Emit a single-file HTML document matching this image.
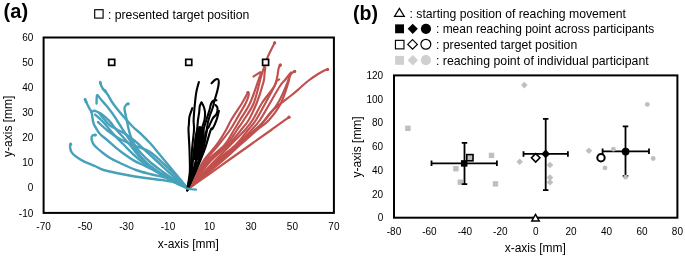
<!DOCTYPE html>
<html><head><meta charset="utf-8"><style>
html,body{margin:0;padding:0;background:#fff;}
svg{display:block;font-family:"Liberation Sans", sans-serif;will-change:transform;}
</style></head><body>
<svg width="685" height="257" viewBox="0 0 685 257">
<rect width="685" height="257" fill="#fff"/>
<rect x="43.6" y="37.5" width="290.3" height="175.4" fill="none" stroke="#000" stroke-width="2"/>
<text x="33.3" y="41.1" text-anchor="end" font-size="10.0">60</text>
<text x="33.3" y="66.2" text-anchor="end" font-size="10.0">50</text>
<text x="33.3" y="91.2" text-anchor="end" font-size="10.0">40</text>
<text x="33.3" y="116.3" text-anchor="end" font-size="10.0">30</text>
<text x="33.3" y="141.3" text-anchor="end" font-size="10.0">20</text>
<text x="33.3" y="166.4" text-anchor="end" font-size="10.0">10</text>
<text x="33.3" y="191.4" text-anchor="end" font-size="10.0">0</text>
<text x="33.3" y="216.5" text-anchor="end" font-size="10.0">-10</text>
<text x="43.6" y="230.1" text-anchor="middle" font-size="10.0">-70</text>
<text x="85.1" y="230.1" text-anchor="middle" font-size="10.0">-50</text>
<text x="126.5" y="230.1" text-anchor="middle" font-size="10.0">-30</text>
<text x="168.0" y="230.1" text-anchor="middle" font-size="10.0">-10</text>
<text x="209.5" y="230.1" text-anchor="middle" font-size="10.0">10</text>
<text x="251.0" y="230.1" text-anchor="middle" font-size="10.0">30</text>
<text x="292.4" y="230.1" text-anchor="middle" font-size="10.0">50</text>
<text x="333.9" y="230.1" text-anchor="middle" font-size="10.0">70</text>
<rect x="394.0" y="75.4" width="283.4" height="142.3" fill="none" stroke="#000" stroke-width="2"/>
<text x="383.2" y="221.3" text-anchor="end" font-size="10.0">0</text>
<text x="383.2" y="197.6" text-anchor="end" font-size="10.0">20</text>
<text x="383.2" y="173.9" text-anchor="end" font-size="10.0">40</text>
<text x="383.2" y="150.2" text-anchor="end" font-size="10.0">60</text>
<text x="383.2" y="126.4" text-anchor="end" font-size="10.0">80</text>
<text x="383.2" y="102.7" text-anchor="end" font-size="10.0">100</text>
<text x="383.2" y="79.0" text-anchor="end" font-size="10.0">120</text>
<text x="394.0" y="234.6" text-anchor="middle" font-size="10.0">-80</text>
<text x="429.4" y="234.6" text-anchor="middle" font-size="10.0">-60</text>
<text x="464.9" y="234.6" text-anchor="middle" font-size="10.0">-40</text>
<text x="500.3" y="234.6" text-anchor="middle" font-size="10.0">-20</text>
<text x="535.7" y="234.6" text-anchor="middle" font-size="10.0">0</text>
<text x="571.1" y="234.6" text-anchor="middle" font-size="10.0">20</text>
<text x="606.5" y="234.6" text-anchor="middle" font-size="10.0">40</text>
<text x="642.0" y="234.6" text-anchor="middle" font-size="10.0">60</text>
<text x="677.4" y="234.6" text-anchor="middle" font-size="10.0">80</text>
<text x="3.6" y="18.0" font-size="21" font-weight="bold" textLength="24.5" lengthAdjust="spacingAndGlyphs">(a)</text>
<text x="353.0" y="20.0" font-size="21" font-weight="bold" textLength="25.0" lengthAdjust="spacingAndGlyphs">(b)</text>
<rect x="94.7" y="9.7" width="8.4" height="8.4" fill="none" stroke="#000" stroke-width="1.15"/>
<text x="107.9" y="18.7" font-size="12.1" textLength="141.5" lengthAdjust="spacingAndGlyphs">: presented target position</text>
<text x="409.5" y="17.8" font-size="12.1" textLength="216.5" lengthAdjust="spacingAndGlyphs">: starting position of reaching movement</text>
<text x="436.0" y="33.2" font-size="12.1" textLength="218.2" lengthAdjust="spacingAndGlyphs">: mean reaching point across participants</text>
<text x="436.0" y="48.8" font-size="12.1" textLength="141.2" lengthAdjust="spacingAndGlyphs">: presented target position</text>
<text x="436.0" y="64.8" font-size="12.1" textLength="212.7" lengthAdjust="spacingAndGlyphs">: reaching point of individual participant</text>
<text x="157.7" y="247.8" font-size="12.3" textLength="61.2" lengthAdjust="spacingAndGlyphs">x-axis [mm]</text>
<text x="504.7" y="252.3" font-size="12.3" textLength="61.2" lengthAdjust="spacingAndGlyphs">x-axis [mm]</text>
<text transform="translate(12.3,156.9) rotate(-90)" x="0" y="0" font-size="12.3" textLength="61.3" lengthAdjust="spacingAndGlyphs">y-axis [mm]</text>
<text transform="translate(361.1,177.6) rotate(-90)" x="0" y="0" font-size="12.3" textLength="61.3" lengthAdjust="spacingAndGlyphs">y-axis [mm]</text>
<path d="M399.4 8.4L404.3 16.4H394.5Z" fill="#fff" stroke="#000" stroke-width="1.2"/>
<rect x="395.10" y="24.35" width="8.9" height="8.9" fill="#000"/>
<path d="M412.75 23.75L417.85 28.85L412.75 33.95L407.65 28.85Z" fill="#000"/>
<circle cx="425.95" cy="28.85" r="5.1" fill="#000"/>
<rect x="395.45" y="40.35" width="8.5" height="8.5" fill="none" stroke="#000" stroke-width="1.15"/>
<path d="M412.55 39.60L417.35 44.40L412.55 49.20L407.75 44.40Z" fill="none" stroke="#000" stroke-width="1.2"/>
<circle cx="425.85" cy="44.25" r="4.95" fill="none" stroke="#000" stroke-width="1.2"/>
<rect x="395.10" y="55.90" width="8.9" height="8.9" fill="#d0d0d0"/>
<path d="M412.80 55.10L418.00 60.30L412.80 65.50L407.60 60.30Z" fill="#d0d0d0"/>
<circle cx="425.9" cy="60.15" r="5.1" fill="#d0d0d0"/>
<rect x="405.20" y="125.60" width="5.4" height="5.4" fill="#bfbfbf"/>
<rect x="453.20" y="166.00" width="5.4" height="5.4" fill="#bfbfbf"/>
<rect x="457.60" y="179.50" width="5.4" height="5.4" fill="#bfbfbf"/>
<rect x="488.80" y="152.70" width="5.4" height="5.4" fill="#bfbfbf"/>
<rect x="492.80" y="181.20" width="5.4" height="5.4" fill="#bfbfbf"/>
<rect x="467.50" y="155.30" width="5.4" height="5.4" fill="#bfbfbf"/>
<path d="M431.5 163.3H496.9M464.5 142.9V184.2M431.5 160.55V166.05M496.9 160.55V166.05M461.75 142.9H467.25M461.75 184.2H467.25" stroke="#000" stroke-width="1.8" fill="none"/>
<rect x="460.95" y="160.15" width="6.5" height="6.5" fill="#000"/>
<rect x="466.80" y="154.60" width="6.2" height="6.2" fill="none" stroke="#000" stroke-width="1.6"/>
<path d="M524.30 81.80L527.60 85.10L524.30 88.40L521.00 85.10Z" fill="#bfbfbf"/>
<path d="M519.70 158.40L523.00 161.70L519.70 165.00L516.40 161.70Z" fill="#bfbfbf"/>
<path d="M550.00 161.70L553.30 165.00L550.00 168.30L546.70 165.00Z" fill="#bfbfbf"/>
<path d="M550.00 174.30L553.30 177.60L550.00 180.90L546.70 177.60Z" fill="#bfbfbf"/>
<path d="M550.00 178.90L553.30 182.20L550.00 185.50L546.70 182.20Z" fill="#bfbfbf"/>
<path d="M588.90 147.50L592.20 150.80L588.90 154.10L585.60 150.80Z" fill="#bfbfbf"/>
<path d="M523.5 153.9H567.9M545.7 118.9V190.2M523.5 151.15V156.65M567.9 151.15V156.65M542.95 118.9H548.45M542.95 190.2H548.45" stroke="#000" stroke-width="1.8" fill="none"/>
<path d="M545.70 149.50L550.10 153.90L545.70 158.30L541.30 153.90Z" fill="#000"/>
<path d="M535.70 153.60L539.90 157.80L535.70 162.00L531.50 157.80Z" fill="#fff" stroke="#000" stroke-width="1.6"/>
<path d="M602.6 151.3H649.0M625.5 126.3V176.0M602.6 148.55V154.05M649.0 148.55V154.05M622.75 126.3H628.25M622.75 176.0H628.25" stroke="#000" stroke-width="1.8" fill="none"/>
<circle cx="613.4" cy="149.2" r="2.4" fill="#bfbfbf"/>
<circle cx="605.0" cy="167.9" r="2.4" fill="#bfbfbf"/>
<circle cx="625.6" cy="177.2" r="2.4" fill="#bfbfbf"/>
<circle cx="647.3" cy="104.4" r="2.4" fill="#bfbfbf"/>
<circle cx="653.2" cy="158.5" r="2.4" fill="#bfbfbf"/>
<circle cx="625.6" cy="151.6" r="3.9" fill="#000"/>
<circle cx="601.0" cy="157.8" r="3.7" fill="#fff" stroke="#000" stroke-width="2.0"/>
<path d="M535.5 214.4L539.2 220.9H531.8Z" fill="#fff" stroke="#000" stroke-width="1.5"/>
<g fill="none" stroke="#47A1BB" stroke-width="2.4" stroke-linecap="round" stroke-linejoin="round">
<path d="M100.2 82.0C100.4 82.6 100.7 84.3 101.2 85.5C101.7 86.7 102.3 88.0 103.0 89.0C103.7 90.0 104.3 90.2 105.1 91.2C105.9 92.2 106.8 93.2 108.0 95.0C109.2 96.8 110.3 99.5 112.0 102.0C113.7 104.5 115.6 107.0 118.0 110.0C120.4 113.0 123.7 116.8 126.3 119.7C128.9 122.6 131.1 125.1 133.6 127.5C136.1 129.9 138.7 131.7 141.4 134.3C144.1 136.9 146.9 139.6 150.0 143.0C153.1 146.4 156.7 151.0 160.0 155.0C163.3 159.0 166.7 163.0 170.0 167.0C173.3 171.0 177.1 175.4 180.0 179.0C182.9 182.6 186.3 186.8 187.6 188.3"/>
<path d="M96.6 103.5C96.6 103.0 96.5 102.0 96.6 100.6C96.7 99.2 96.5 95.2 97.3 95.1C98.1 95.0 99.6 98.0 101.2 99.8C102.8 101.6 104.9 103.8 106.7 106.0C108.5 108.2 110.4 110.7 112.1 113.0C113.8 115.3 115.5 118.0 116.8 120.0C118.1 122.0 118.5 122.8 119.9 125.0C121.3 127.2 122.8 129.7 125.0 133.0C127.2 136.3 130.3 141.0 133.0 145.0C135.7 149.0 137.3 152.8 141.0 157.0C144.7 161.2 149.8 166.0 155.0 170.0C160.2 174.0 166.6 177.9 172.0 181.0C177.4 184.1 185.0 187.1 187.6 188.3"/>
<path d="M128.5 103.7C128.2 103.8 127.6 103.3 126.9 104.0C126.2 104.7 124.9 106.4 124.6 107.6C124.2 108.8 124.6 109.6 124.8 111.0C125.0 112.4 125.4 113.8 125.8 115.8C126.2 117.8 126.8 120.4 127.3 122.7C127.8 125.0 128.2 127.5 128.7 129.5C129.2 131.6 129.5 132.9 130.2 135.0C130.9 137.1 131.4 139.2 133.0 142.0C134.6 144.8 137.2 148.7 140.0 152.0C142.8 155.3 146.2 158.7 150.0 162.0C153.8 165.3 158.7 168.8 163.0 172.0C167.3 175.2 171.9 178.3 176.0 181.0C180.1 183.7 185.7 187.1 187.6 188.3"/>
<path d="M91.3 112.0C91.8 111.8 93.4 110.9 94.3 110.8C95.2 110.7 95.4 111.0 96.6 111.5C97.8 112.0 99.7 112.8 101.2 113.8C102.8 114.8 104.3 116.3 105.9 117.7C107.5 119.1 109.1 120.7 110.6 122.4C112.1 124.1 113.1 125.7 115.0 128.0C116.9 130.3 119.5 133.2 122.0 136.0C124.5 138.8 127.2 141.7 130.0 145.0C132.8 148.3 135.7 152.5 139.0 156.0C142.3 159.5 145.7 162.7 150.0 166.0C154.3 169.3 160.3 173.2 165.0 176.0C169.7 178.8 174.2 180.9 178.0 183.0C181.8 185.1 186.0 187.4 187.6 188.3"/>
<path d="M85.0 99.1C85.4 100.0 86.7 102.9 87.4 104.5C88.2 106.1 88.8 107.3 89.5 108.6C90.2 109.8 91.0 110.6 91.5 112.0C92.0 113.4 92.0 115.1 92.3 117.0C92.6 118.9 93.0 121.8 93.6 123.6C94.2 125.4 94.9 126.3 96.0 128.0C97.1 129.7 98.0 131.9 100.0 134.0C102.0 136.1 104.4 137.7 107.7 140.5C111.0 143.3 115.6 147.7 120.0 151.0C124.4 154.3 129.8 158.1 134.0 160.6C138.2 163.1 140.7 163.8 145.0 165.9C149.3 168.0 155.0 170.5 160.0 173.0C165.0 175.5 170.4 178.4 175.0 181.0C179.6 183.6 185.5 187.1 187.6 188.3"/>
<path d="M95.0 114.6C95.8 115.2 98.2 117.1 99.7 118.5C101.2 119.9 102.6 121.2 104.3 123.1C106.0 125.0 107.9 127.5 110.0 130.0C112.1 132.5 114.5 135.3 117.0 138.0C119.5 140.7 122.2 143.2 125.0 146.0C127.8 148.8 130.7 152.0 134.0 155.0C137.3 158.0 140.7 160.8 145.0 164.0C149.3 167.2 154.8 170.8 160.0 174.0C165.2 177.2 171.4 180.6 176.0 183.0C180.6 185.4 185.7 187.4 187.6 188.3"/>
<path d="M95.6 134.9C95.1 135.0 93.4 134.8 92.7 135.4C92.0 136.0 91.4 137.3 91.5 138.7C91.6 140.1 92.2 142.0 93.1 143.6C94.0 145.2 95.3 146.4 97.0 148.0C98.7 149.6 100.8 151.3 103.0 153.0C105.2 154.7 107.2 156.3 110.0 158.0C112.8 159.7 115.7 161.0 120.0 163.0C124.3 165.0 130.9 168.2 135.9 170.0C140.9 171.8 145.2 172.8 150.0 174.0C154.8 175.2 159.9 176.2 165.0 177.5C170.1 178.8 176.9 180.2 180.7 182.0C184.5 183.8 186.4 187.2 187.6 188.3"/>
<path d="M70.7 143.6C70.6 144.2 69.9 146.0 70.1 147.5C70.3 149.0 70.8 151.0 71.7 152.4C72.6 153.8 73.7 154.8 75.6 156.2C77.5 157.6 80.1 159.5 83.3 161.1C86.5 162.7 91.6 164.5 95.0 166.0C98.4 167.5 98.7 168.6 103.6 170.0C108.5 171.4 117.2 173.2 124.2 174.5C131.2 175.8 138.4 177.0 145.3 178.0C152.2 179.0 159.6 179.7 165.5 180.6C171.4 181.5 177.0 182.3 180.7 183.6C184.4 184.9 186.4 187.5 187.6 188.3"/>
<path d="M99.0 113.0C99.8 114.0 102.2 116.9 104.0 119.0C105.8 121.1 107.8 123.8 110.0 125.5C112.2 127.2 114.5 128.1 117.0 129.5C119.5 130.9 122.0 131.8 125.0 133.7C128.0 135.6 131.3 137.9 135.0 141.0C138.7 144.1 142.8 148.2 147.0 152.0C151.2 155.8 155.5 159.8 160.0 164.0C164.5 168.2 169.4 172.9 174.0 177.0C178.6 181.1 185.3 186.4 187.6 188.3"/>
<path d="M98.0 122.0C99.7 123.5 104.3 128.2 108.0 131.0C111.7 133.8 115.8 136.7 120.0 139.0C124.2 141.3 128.0 142.8 133.0 145.0C138.0 147.2 144.7 148.7 150.0 152.0C155.3 155.3 160.3 160.7 165.0 165.0C169.7 169.3 174.2 174.1 178.0 178.0C181.8 181.9 186.0 186.6 187.6 188.3"/>
</g>
<g fill="none" stroke="#C0504D" stroke-width="2.15" stroke-linecap="round" stroke-linejoin="round">
<path d="M248.0 92.4C247.8 92.8 247.8 92.7 246.8 94.5C245.8 96.3 244.7 98.8 242.1 103.0C239.5 107.2 233.9 115.5 231.2 120.0C228.5 124.5 228.4 125.8 226.0 130.0C223.6 134.2 220.2 140.0 216.5 145.0C212.8 150.0 207.4 155.0 204.0 160.0C200.6 165.0 198.5 170.3 196.0 175.0C193.5 179.7 190.2 186.1 189.0 188.3"/>
<path d="M248.0 92.4C248.1 92.8 249.1 93.2 248.7 95.0C248.3 96.8 247.9 98.8 245.8 103.0C243.7 107.2 238.6 115.5 236.0 120.0C233.4 124.5 232.9 125.8 230.0 130.0C227.1 134.2 222.5 140.0 218.5 145.0C214.5 150.0 209.6 155.0 206.0 160.0C202.4 165.0 199.8 170.3 197.0 175.0C194.2 179.7 190.3 186.1 189.0 188.3"/>
<path d="M253.5 76.5C254.2 76.1 256.2 74.7 257.5 74.0C258.8 73.3 260.8 71.5 261.0 72.5C261.2 73.5 260.3 74.9 258.5 80.0C256.7 85.1 253.2 96.3 250.1 103.0C247.0 109.7 242.7 115.5 240.0 120.0C237.3 124.5 236.6 125.8 234.0 130.0C231.4 134.2 228.8 140.0 224.5 145.0C220.2 150.0 212.4 155.0 208.0 160.0C203.6 165.0 201.1 170.3 197.9 175.0C194.8 179.7 190.5 186.1 189.0 188.3"/>
<path d="M274.8 42.5C274.0 44.1 271.4 49.1 270.0 52.0C268.6 54.9 267.6 57.1 266.5 60.0C265.4 62.9 264.3 66.4 263.4 69.2C262.5 72.0 262.6 71.4 261.0 77.0C259.4 82.6 256.7 95.8 253.8 103.0C250.9 110.2 246.6 115.5 243.8 120.0C241.0 124.5 239.9 125.8 237.0 130.0C234.1 134.2 231.0 140.0 226.5 145.0C222.0 150.0 214.6 155.0 210.0 160.0C205.4 165.0 202.4 170.3 198.9 175.0C195.4 179.7 190.6 186.1 189.0 188.3"/>
<path d="M265.3 67.5C265.2 68.6 264.8 71.6 264.5 74.0C264.2 76.4 264.8 77.2 263.5 82.0C262.2 86.8 259.2 96.7 256.7 103.0C254.2 109.3 251.3 115.5 248.7 120.0C246.1 124.5 244.4 125.8 241.0 130.0C237.6 134.2 233.4 140.0 228.5 145.0C223.6 150.0 216.3 155.0 211.5 160.0C206.7 165.0 203.3 170.3 199.6 175.0C195.8 179.7 190.8 186.1 189.0 188.3"/>
<path d="M280.4 64.6C280.1 65.3 279.0 66.9 278.5 69.0C278.0 71.1 277.9 74.2 277.2 77.0C276.5 79.8 277.0 81.7 274.5 86.0C272.0 90.3 265.6 97.3 262.0 103.0C258.4 108.7 255.4 115.5 252.6 120.0C249.8 124.5 248.7 125.8 245.0 130.0C241.3 134.2 235.4 140.0 230.5 145.0C225.6 150.0 220.3 155.0 215.5 160.0C210.7 165.0 205.9 170.3 201.5 175.0C197.0 179.7 191.1 186.1 189.0 188.3"/>
<path d="M279.1 79.5C278.7 79.8 277.3 79.9 276.5 81.0C275.7 82.1 276.3 82.3 274.5 86.0C272.7 89.7 268.6 97.3 265.5 103.0C262.4 108.7 258.9 115.5 256.0 120.0C253.1 124.5 251.4 125.8 248.0 130.0C244.6 134.2 240.6 140.0 235.5 145.0C230.4 150.0 223.0 155.0 217.5 160.0C212.0 165.0 207.1 170.3 202.4 175.0C197.6 179.7 191.2 186.1 189.0 188.3"/>
<path d="M291.0 72.5C290.6 73.0 289.5 74.2 288.5 75.5C287.5 76.8 286.4 78.2 285.0 80.0C283.6 81.8 282.5 82.2 280.0 86.0C277.5 89.8 273.3 97.3 270.0 103.0C266.7 108.7 263.1 115.5 260.0 120.0C256.9 124.5 255.3 125.8 251.5 130.0C247.7 134.2 242.3 140.0 237.0 145.0C231.7 150.0 225.1 155.0 219.5 160.0C213.9 165.0 208.4 170.3 203.3 175.0C198.3 179.7 191.4 186.1 189.0 188.3"/>
<path d="M294.9 71.2C294.3 71.5 292.6 72.1 291.6 73.2C290.6 74.3 289.9 76.0 289.0 78.0C288.1 80.0 288.3 80.8 286.5 85.0C284.7 89.2 281.6 97.2 278.0 103.0C274.4 108.8 268.8 115.5 265.0 120.0C261.2 124.5 259.4 125.8 255.0 130.0C250.6 134.2 244.1 140.0 238.5 145.0C232.9 150.0 227.2 155.0 221.5 160.0C215.8 165.0 209.7 170.3 204.3 175.0C198.9 179.7 191.5 186.1 189.0 188.3"/>
<path d="M289.5 76.5C289.3 77.4 289.9 77.6 288.5 82.0C287.1 86.4 284.2 96.7 281.0 103.0C277.8 109.3 273.0 115.5 269.0 120.0C265.0 124.5 261.8 125.8 257.0 130.0C252.2 134.2 245.6 140.0 240.0 145.0C234.4 150.0 229.3 155.0 223.5 160.0C217.7 165.0 211.0 170.3 205.2 175.0C199.5 179.7 191.7 186.1 189.0 188.3"/>
<path d="M327.8 69.3C327.2 69.5 326.1 69.6 324.3 70.5C322.6 71.4 320.0 72.8 317.3 74.5C314.6 76.2 310.9 78.8 308.0 81.0C305.1 83.2 302.7 85.7 300.0 88.0C297.3 90.3 294.9 92.5 291.8 95.0C288.7 97.5 285.0 100.2 281.5 103.0C278.0 105.8 274.6 108.2 271.0 112.0C267.4 115.8 263.9 121.9 260.0 125.8C256.1 129.7 251.5 132.2 247.5 135.5C243.5 138.8 239.9 141.9 236.0 145.3C232.1 148.7 228.0 152.4 224.0 156.0C220.0 159.6 215.9 163.2 212.0 166.8C208.1 170.4 204.3 173.9 200.5 177.5C196.7 181.1 190.9 186.5 189.0 188.3"/>
<path d="M289.0 117.2C286.0 119.3 277.7 125.4 271.2 130.0C264.7 134.6 257.1 140.0 250.1 145.0C243.1 150.0 235.9 155.0 228.9 160.0C221.9 165.0 214.5 170.3 207.8 175.0C201.2 179.7 192.1 186.1 189.0 188.3"/>
</g>
<g fill="none" stroke="#000" stroke-width="2.1" stroke-linecap="round" stroke-linejoin="round">
<path d="M192.3 108.2C191.8 109.6 190.1 113.7 189.5 116.4C188.9 119.1 189.1 122.3 188.9 124.6C188.7 126.9 188.4 125.8 188.5 130.0C188.6 134.2 189.3 143.3 189.5 150.0C189.7 156.7 190.0 165.0 189.9 170.0C189.8 175.0 189.2 176.6 188.8 180.0C188.4 183.4 187.5 188.5 187.2 190.2"/>
<path d="M198.9 82.0C198.6 83.2 197.5 86.7 196.9 89.2C196.3 91.7 195.9 94.8 195.6 97.2C195.3 99.6 195.1 101.7 194.9 103.8C194.7 105.9 194.5 107.2 194.3 110.0C194.1 112.8 193.7 117.2 193.6 120.5C193.5 123.8 194.3 125.1 194.0 130.0C193.7 134.9 192.5 143.3 192.0 150.0C191.5 156.7 191.6 165.0 191.1 170.0C190.6 175.0 189.8 176.6 189.2 180.0C188.5 183.4 187.5 188.5 187.2 190.2"/>
<path d="M201.5 102.5C201.2 103.1 200.2 104.4 199.8 106.0C199.4 107.6 199.5 109.7 199.2 112.0C198.9 114.3 198.4 117.0 198.0 120.0C197.6 123.0 197.7 125.0 197.0 130.0C196.3 135.0 194.8 143.3 194.0 150.0C193.2 156.7 192.6 165.0 191.9 170.0C191.2 175.0 190.4 176.6 189.6 180.0C188.8 183.4 187.6 188.5 187.2 190.2"/>
<path d="M201.5 102.5C201.8 103.1 202.9 104.4 203.5 106.0C204.1 107.6 204.8 109.7 205.0 112.0C205.2 114.3 205.1 117.0 204.5 120.0C203.9 123.0 202.6 125.0 201.5 130.0C200.4 135.0 199.3 143.3 198.0 150.0C196.7 156.7 194.8 165.0 193.5 170.0C192.2 175.0 191.2 176.6 190.2 180.0C189.1 183.4 187.7 188.5 187.2 190.2"/>
<path d="M211.5 83.3C212.1 82.8 213.7 80.7 214.8 80.0C215.9 79.3 217.4 78.9 218.1 79.3C218.8 79.7 218.9 80.7 218.8 82.6C218.7 84.5 218.0 88.2 217.4 90.6C216.8 93.0 216.1 95.3 215.5 97.2C214.9 99.1 214.5 100.4 214.1 102.0C213.7 103.6 213.7 104.8 213.0 107.0C212.3 109.2 210.8 112.5 210.0 115.0C209.2 117.5 208.6 119.5 208.0 122.0C207.4 124.5 207.6 125.3 206.6 130.0C205.6 134.7 203.8 143.3 202.0 150.0C200.2 156.7 197.3 165.0 195.5 170.0C193.7 175.0 192.7 176.6 191.3 180.0C189.9 183.4 187.9 188.5 187.2 190.2"/>
<path d="M216.5 100.2C215.9 100.3 213.9 100.2 213.0 100.8C212.1 101.4 211.6 102.5 211.0 104.0C210.4 105.5 210.2 107.7 209.5 110.0C208.8 112.3 208.0 114.7 207.0 118.0C206.0 121.3 204.8 124.7 203.5 130.0C202.2 135.3 200.5 143.3 199.0 150.0C197.5 156.7 195.7 165.0 194.3 170.0C192.9 175.0 191.8 176.6 190.6 180.0C189.4 183.4 187.8 188.5 187.2 190.2"/>
<path d="M215.5 105.0C215.8 105.5 217.3 106.5 217.5 108.0C217.7 109.5 217.3 112.2 216.5 114.0C215.7 115.8 214.0 116.3 212.7 118.5C211.4 120.7 209.5 125.4 208.6 127.3C207.7 129.2 207.9 126.2 207.0 130.0C206.1 133.8 204.8 143.3 203.0 150.0C201.2 156.7 197.8 165.0 195.9 170.0C194.0 175.0 193.1 176.6 191.7 180.0C190.2 183.4 187.9 188.5 187.2 190.2"/>
<path d="M218.9 110.9C218.6 112.3 217.8 116.1 216.8 119.1C215.8 122.0 213.7 126.8 212.7 128.6C211.7 130.4 212.1 126.4 210.7 130.0C209.3 133.6 206.9 143.3 204.5 150.0C202.1 156.7 198.4 165.0 196.3 170.0C194.2 175.0 193.2 176.6 191.7 180.0C190.2 183.4 187.9 188.5 187.2 190.2"/>
</g>
<path d="M199 126C201.5 126 203.8 128 204.6 131C205 135 204.6 140 203.6 145C202.8 150 202 155 200.8 160L193.8 160C193.6 154 193.8 147 194.3 141C194.8 135 196 129 199 126Z" fill="#000"/>
<circle cx="100.4" cy="83.0" r="1.5" fill="#47A1BB"/>
<circle cx="85.1" cy="99.8" r="1.5" fill="#47A1BB"/>
<circle cx="128.0" cy="104.0" r="1.5" fill="#47A1BB"/>
<circle cx="95.2" cy="134.9" r="1.5" fill="#47A1BB"/>
<circle cx="70.6" cy="144.2" r="1.5" fill="#47A1BB"/>
<circle cx="97.3" cy="95.6" r="1.5" fill="#47A1BB"/>
<circle cx="104.6" cy="90.2" r="1.5" fill="#47A1BB"/>
<circle cx="105.6" cy="91.4" r="1.5" fill="#47A1BB"/>
<circle cx="86.0" cy="101.8" r="1.5" fill="#47A1BB"/>
<circle cx="274.6" cy="43.0" r="1.7" fill="#C0504D"/>
<circle cx="280.2" cy="65.2" r="1.7" fill="#C0504D"/>
<circle cx="294.6" cy="71.4" r="1.7" fill="#C0504D"/>
<circle cx="327.5" cy="69.4" r="1.7" fill="#C0504D"/>
<circle cx="248.0" cy="92.6" r="1.7" fill="#C0504D"/>
<circle cx="289.0" cy="117.2" r="1.7" fill="#C0504D"/>
<path d="M186.5 188.3L191 189.2L196 189.6" fill="none" stroke="#47A1BB" stroke-width="2.2" stroke-linecap="round"/>
<rect x="108.70" y="59.35" width="6.0" height="6.0" fill="#fff" stroke="#000" stroke-width="1.7"/>
<rect x="185.75" y="59.35" width="6.0" height="6.0" fill="#fff" stroke="#000" stroke-width="1.7"/>
<rect x="262.60" y="59.35" width="6.0" height="6.0" fill="#fff" stroke="#000" stroke-width="1.7"/>
</svg>
</body></html>
